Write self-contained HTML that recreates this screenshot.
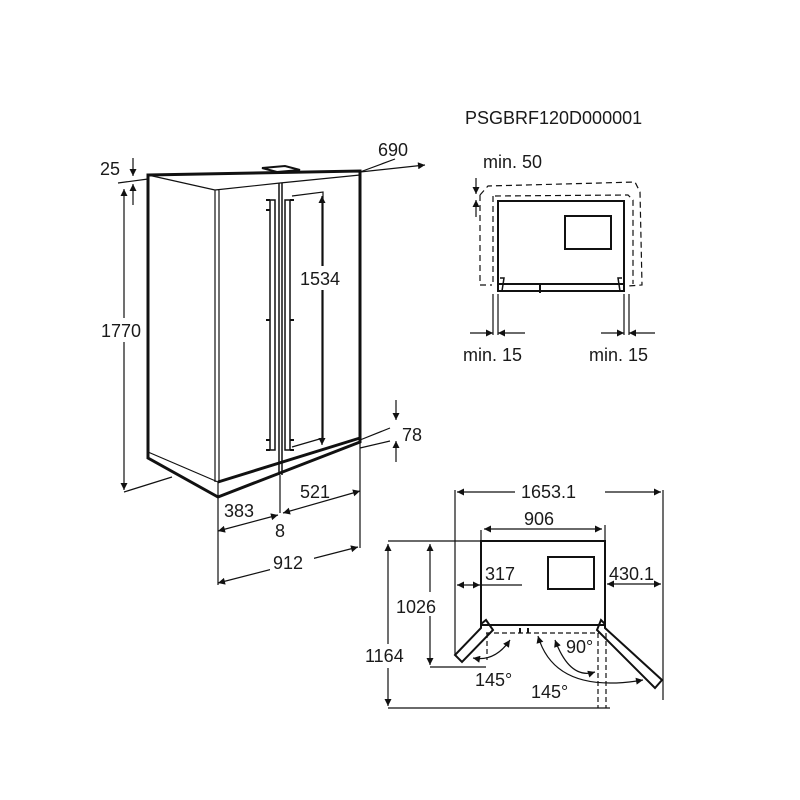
<!DOCTYPE html>
<html><head><meta charset="utf-8"><style>
html,body{margin:0;padding:0;background:#fff}
svg{display:block}
text{font-family:"Liberation Sans",sans-serif;font-size:18px;fill:#1a1a1a}
</style></head><body>
<svg width="800" height="800" viewBox="0 0 800 800" xmlns="http://www.w3.org/2000/svg">
<defs>
<marker id="a" viewBox="0 0 10 10" refX="10" refY="5" markerWidth="9" markerHeight="7" orient="auto-start-reverse" markerUnits="userSpaceOnUse"><path d="M0,0L10,5L0,10z" fill="#111"/></marker>
</defs>
<g stroke="#111" fill="none" stroke-width="1.2">
<path d="M148,175 L360,171 L360,442 L218,497 L148,458 Z" stroke-width="3"/>
<path d="M148,175 L215,190 L215,482 M219,190 L219,482 M215,190 L280,183 L360,175"/>
<path d="M218,482 L360,438" stroke-width="3"/>
<path d="M218,482 L218,497 M148,452 L218,482"/>
<path d="M279,183 L279,475 M282,183 L282,475" stroke-width="1.5"/>
<path d="M262,168 L285,166 L300,170 L277,172 Z" stroke-width="2"/>
<rect x="270" y="200" width="5" height="250" stroke-width="1.5"/>
<path d="M266,200 L270,200 M266,320 L270,320 M266,440 L270,440 M266,210 L270,210 M266,450 L270,450" stroke-width="2"/>
<rect x="285" y="200" width="5" height="250" stroke-width="1.5"/>
<path d="M290,200 L294,200 M290,320 L294,320 M290,440 L294,440 M290,450 L294,450" stroke-width="2"/>
<path d="M292,196 L323,192 L323,438 L292,447"/>
<line x1="124" y1="189" x2="124" y2="490" marker-start="url(#a)" marker-end="url(#a)"/>
<path d="M124,492 L172,477 M118,183 L148,179"/>
<line x1="133" y1="158" x2="133" y2="176" marker-end="url(#a)"/>
<line x1="133" y1="205" x2="133" y2="184" marker-end="url(#a)"/>
<line x1="322" y1="196" x2="322" y2="445" marker-start="url(#a)" marker-end="url(#a)"/>
<line x1="360" y1="172" x2="425" y2="165" marker-end="url(#a)"/>
<path d="M360,172 L395,159"/>
<line x1="396" y1="400" x2="396" y2="420" marker-end="url(#a)"/>
<line x1="396" y1="462" x2="396" y2="441" marker-end="url(#a)"/>
<path d="M360,440 L390,428 M360,448 L390,441"/>
<path d="M218,497 L218,585 M360,442 L360,548 M280,475 L280,513"/>
<line x1="283" y1="513" x2="360" y2="491" marker-start="url(#a)" marker-end="url(#a)"/>
<line x1="218" y1="531" x2="278" y2="515" marker-start="url(#a)" marker-end="url(#a)"/>
<line x1="218" y1="583" x2="358" y2="547" marker-start="url(#a)" marker-end="url(#a)"/>
<rect x="498" y="201" width="126" height="90" stroke-width="2"/>
<rect x="565" y="216" width="46" height="33" stroke-width="2"/>
<path d="M498,284 L624,284 M540,284 L540,293" stroke-width="2"/>
<path d="M500,278 L504,278 L502,291 M622,278 L618,278 L620,291" stroke-width="1.5"/>
<path d="M480,195 L488,186 L600,183 L635,182 L640,192 L642,285 L628,286 M495,196 L628,195 L633,200 L633,284 M480,195 L480,285 L492,285 M493,196 L493,283" stroke-dasharray="6,4"/>
<line x1="476" y1="178" x2="476" y2="194" marker-end="url(#a)"/>
<line x1="476" y1="217" x2="476" y2="200" marker-end="url(#a)"/>
<path d="M493,294 L493,335 M498,294 L498,335 M624,294 L624,335 M629,294 L629,335"/>
<line x1="470" y1="333" x2="493" y2="333" marker-end="url(#a)"/>
<line x1="525" y1="333" x2="498" y2="333" marker-end="url(#a)"/>
<line x1="601" y1="333" x2="624" y2="333" marker-end="url(#a)"/>
<line x1="655" y1="333" x2="629" y2="333" marker-end="url(#a)"/>
<rect x="481" y="541" width="124" height="84" stroke-width="2"/>
<rect x="548" y="557" width="46" height="32" stroke-width="2"/>
<path d="M481,541 L481,530 M605,541 L605,525 M455,490 L455,655 M663,490 L663,700"/>
<line x1="484" y1="529" x2="602" y2="529" marker-start="url(#a)" marker-end="url(#a)"/>
<line x1="457" y1="492" x2="515" y2="492" marker-start="url(#a)"/>
<line x1="605" y1="492" x2="661" y2="492" marker-end="url(#a)"/>
<path d="M481,585 L522,585"/>
<line x1="457" y1="585" x2="480" y2="585" marker-start="url(#a)" marker-end="url(#a)"/>
<line x1="607" y1="584" x2="661" y2="584" marker-start="url(#a)" marker-end="url(#a)"/>
<path d="M388,541 L481,541 M388,708 L610,708 M430,667 L486,667"/>
<line x1="430" y1="544" x2="430" y2="665" marker-start="url(#a)" marker-end="url(#a)"/>
<line x1="388" y1="544" x2="388" y2="706" marker-start="url(#a)" marker-end="url(#a)"/>
<path d="M481,624 L486,620 L493,630 L462,662 L455,655 L481,628 Z" stroke-width="2"/>
<path d="M605,624 L601,620 L597,630 L655,688 L662,680 L605,628 Z" stroke-width="2"/>
<path d="M486,633 L599,633 M487,633 L487,660 M598,633 L598,708 M606,633 L606,708" stroke-dasharray="5,3"/>
<path d="M520,628 L520,633 M528,628 L528,633" stroke-width="2"/>
<path d="M473,658 Q495,662 510,640" marker-start="url(#a)" marker-end="url(#a)"/>
<path d="M555,640 Q570,680 595,672" marker-start="url(#a)" marker-end="url(#a)"/>
<path d="M538,636 Q555,695 643,680" marker-start="url(#a)" marker-end="url(#a)"/>
</g>
<g>
<text x="465" y="124">PSGBRF120D000001</text>
<text x="100" y="175">25</text>
<text x="378" y="156">690</text>
<rect x="100" y="318" width="40" height="24" fill="#fff"/>
<text x="101" y="337">1770</text>
<rect x="298" y="266" width="48" height="24" fill="#fff"/>
<text x="300" y="285">1534</text>
<text x="402" y="441">78</text>
<text x="300" y="498">521</text>
<text x="224" y="517">383</text>
<text x="275" y="537">8</text>
<rect x="270" y="551" width="44" height="22" fill="#fff"/>
<text x="273" y="569">912</text>
<text x="483" y="168">min. 50</text>
<text x="463" y="361">min. 15</text>
<text x="589" y="361">min. 15</text>
<rect x="519" y="480" width="82" height="24" fill="#fff"/>
<text x="521" y="498">1653.1</text>
<text x="524" y="525">906</text>
<text x="485" y="580">317</text>
<text x="609" y="580">430.1</text>
<rect x="396" y="592" width="46" height="24" fill="#fff"/>
<text x="396" y="613">1026</text>
<rect x="364" y="644" width="46" height="24" fill="#fff"/>
<text x="365" y="662">1164</text>
<text x="566" y="653">90°</text>
<text x="475" y="686">145°</text>
<text x="531" y="698">145°</text>
</g>
</svg>
</body></html>
